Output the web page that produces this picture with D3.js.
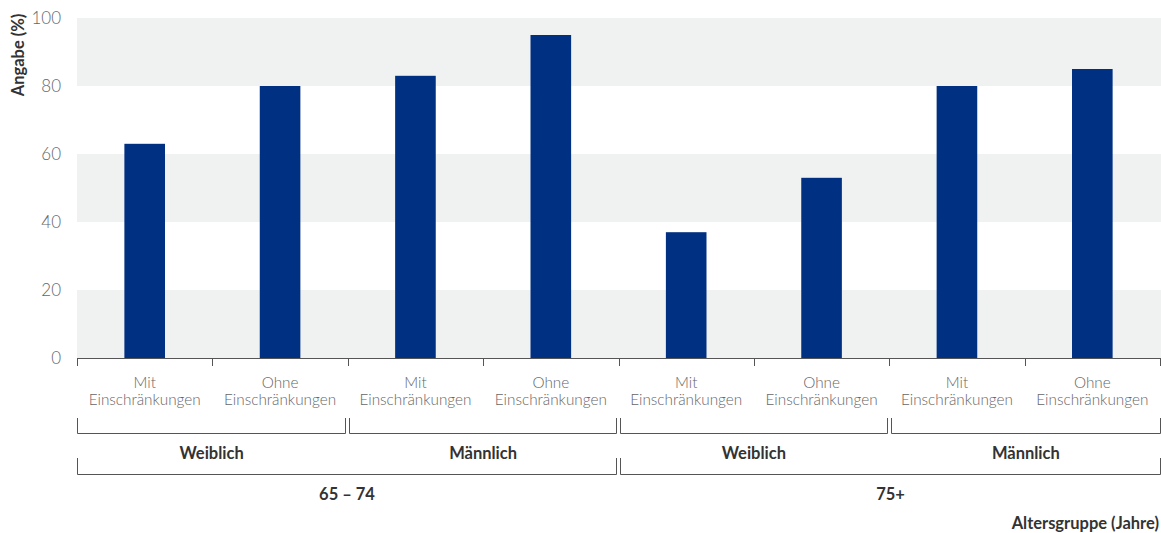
<!DOCTYPE html>
<html><head><meta charset="utf-8">
<script src="https://cdn.jsdelivr.net/npm/d3@7"></script>
<style>body{margin:0;background:#fff}svg{display:block}</style>
</head><body><svg id="c" width="1161" height="533"></svg>
<script>
const categories = ["Mit|Einschränkungen","Ohne|Einschränkungen","Mit|Einschränkungen","Ohne|Einschränkungen","Mit|Einschränkungen","Ohne|Einschränkungen","Mit|Einschränkungen","Ohne|Einschränkungen"];
const values = [63, 80, 83, 95, 37, 53, 80, 85];
const genderGroups = ["Weiblich","Männlich","Weiblich","Männlich"];
const ageGroups = ["65 – 74","75+"];
const yTicks = [0, 20, 40, 60, 80, 100];
const yTitle = "Angabe (%)";
const xTitle = "Altersgruppe (Jahre)";

const svg = d3.select("#c");
const L = 77, R = 1160, T = 18, B = 358;
const x = d3.scaleBand().domain(d3.range(categories.length)).range([L, R]).paddingInner(0).paddingOuter(0);
const y = d3.scaleLinear().domain([0, 100]).range([B, T]);
const font = "'Lato','Open Sans',sans-serif";

// bands
const bands = [[0,20],[40,60],[80,100]];
svg.append("g").selectAll("rect").data(bands).join("rect")
  .attr("x", L).attr("width", 1161 - L)
  .attr("y", d => y(d[1])).attr("height", d => y(d[0]) - y(d[1]))
  .attr("fill", "#f0f2f2");

// bars
const bw = x.bandwidth() * 0.3;
svg.append("g").selectAll("rect").data(values).join("rect")
  .attr("x", (d,i) => x(i) + x.bandwidth()/2 - bw/2)
  .attr("width", bw)
  .attr("y", d => y(d)).attr("height", d => B - y(d))
  .attr("fill", "#003082");

// y axis labels
svg.append("g").selectAll("text").data(yTicks).join("text")
  .attr("x", 61).attr("y", d => y(d)).attr("dy", "0.35em")
  .attr("text-anchor", "end").attr("fill", "#666")
  .style("font-family", font).style("font-size", "17px").style("font-weight", 300)
  .text(d => d);

svg.append("text").attr("transform", "translate(24,55) rotate(-90)")
  .attr("text-anchor", "middle").attr("fill", "#333")
  .style("font-family", font).style("font-size", "16.5px").style("font-weight", 700)
  .text(yTitle);

// x axis line and ticks
const stroke = "#555";
svg.append("line").attr("x1", L).attr("x2", R).attr("y1", B + 0.5).attr("y2", B + 0.5).attr("stroke", stroke).attr("stroke-width", 1);
const tickXs = d3.range(categories.length + 1).map(i => i < categories.length ? x(i) : R);
svg.append("g").selectAll("line").data(tickXs).join("line")
  .attr("x1", d => Math.round(d) + 0.5).attr("x2", d => Math.round(d) + 0.5)
  .attr("y1", B).attr("y2", B + 8).attr("stroke", stroke);

// category labels
const cl = svg.append("g").selectAll("text").data(categories).join("text")
  .attr("text-anchor", "middle").attr("fill", "#666")
  .style("font-family", font).style("font-size", "15.3px").style("font-weight", 300);
cl.each(function(d, i) {
  const parts = d.split("|");
  const t = d3.select(this);
  parts.forEach((p, j) => t.append("tspan").attr("x", x(i) + x.bandwidth()/2).attr("y", 388 + j * 17).text(p));
});

// bracket helper
function bracket(g, x0, x1, yTop, yBot) {
  g.append("path")
   .attr("d", `M${x0+0.5},${yTop}V${yBot+0.5}H${x1-0.5}V${yTop}`)
   .attr("fill", "none").attr("stroke", stroke).attr("stroke-width", 1);
}
const bg = svg.append("g");
genderGroups.forEach((g, i) => {
  const x0 = x(i*2) + (i === 0 ? 0 : 1.5);
  const x1 = (i*2+2 < categories.length ? x(i*2+2) - 1.5 : R + 1);
  bracket(bg, Math.round(x0), Math.round(x1), 418, 433);
  bg.append("text").attr("x", (x0 + x1)/2).attr("y", 459).attr("text-anchor", "middle")
    .attr("fill", "#333").style("font-family", font).style("font-size", "16.5px").style("font-weight", 700).text(g);
});
ageGroups.forEach((g, i) => {
  const x0 = x(i*4) + (i === 0 ? 0 : 1.5);
  const x1 = (i*4+4 < categories.length ? x(i*4+4) - 1.5 : R + 1);
  bracket(bg, Math.round(x0), Math.round(x1), 458, 474);
  bg.append("text").attr("x", (x0 + x1)/2).attr("y", 500).attr("text-anchor", "middle")
    .attr("fill", "#333").style("font-family", font).style("font-size", "16.5px").style("font-weight", 700).text(g);
});

svg.append("text").attr("x", 1159).attr("y", 529).attr("text-anchor", "end")
  .attr("fill", "#333").style("font-family", font).style("font-size", "16.5px").style("font-weight", 700).text(xTitle);
</script></body></html>
